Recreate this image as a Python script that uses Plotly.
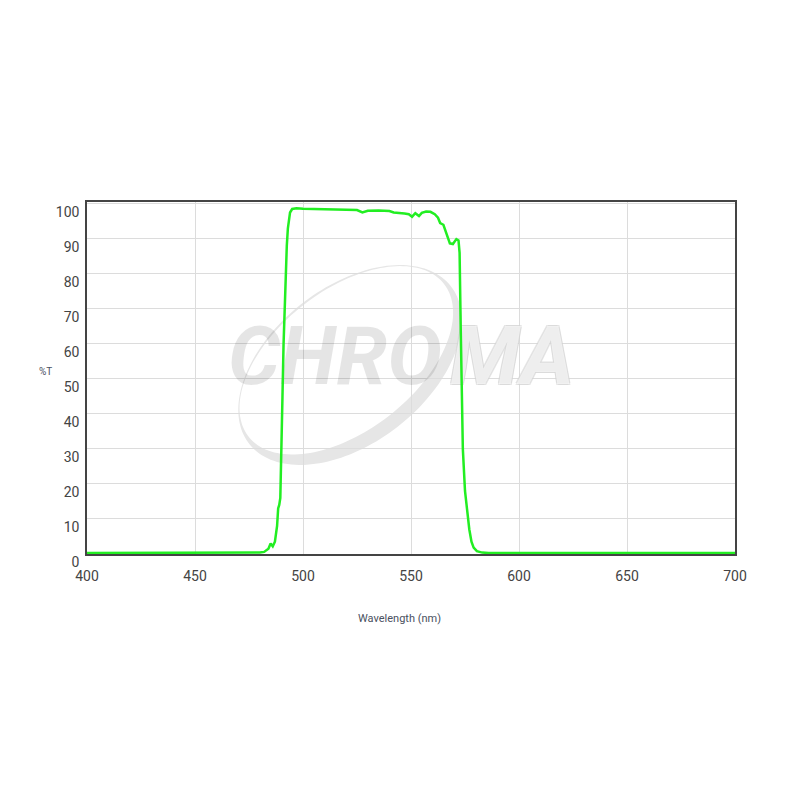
import numpy as np
import plotly.graph_objects as go

wavelength = [400, 450, 480, 482, 484, 485, 486, 487, 488, 488.5, 489, 489.5, 490, 490.5, 491, 491.5,
              492, 492.5, 493, 493.5, 494, 495, 497, 500, 505, 510, 515, 520, 525, 527.5,
              530, 535, 540, 542, 545, 547, 549, 550.5, 552, 553.7, 555, 557, 559, 561, 562.5,
              563.5, 565, 566, 567, 568, 569.4, 571, 572, 572.5, 573, 573.5, 574, 575, 576, 577,
              578, 579, 580.5, 583, 586, 600, 650, 700]
transmission = [0.3, 0.3, 0.4, 0.6, 1.5, 3, 2.2, 3.5, 8, 13, 14, 16, 27, 45, 60, 70,
                80, 88, 93, 96, 97.5, 98.5, 98.7, 98.6, 98.5, 98.4, 98.5, 98.3, 98.2, 97.5,
                98, 98.1, 97.9, 97.5, 97.4, 97.2, 97, 96.3, 97.3, 96.5, 97.4, 97.8, 97.7, 97, 96,
                94.5, 94, 92, 90.5, 88.7, 88.5, 89.9, 89.5, 86, 65, 45, 30, 18, 12, 7,
                3.5, 1.8, 0.8, 0.4, 0.3, 0.3, 0.3, 0.3]

x_ticks = [400, 450, 500, 550, 600, 650, 700]
y_ticks = [0, 10, 20, 30, 40, 50, 60, 70, 80, 90, 100]

Y_MAX = 100.5


def px_to_data(px, py):
    # decorative watermark placement: screen pixels -> data coords
    return 400 + (px - 87) * 300 / 648, (554 - py) * Y_MAX / 352


def ellipse(cx, cy, a, b, ang, n=160):
    t = np.linspace(0, 2 * np.pi, n)
    ca, sa = np.cos(ang), np.sin(ang)
    xs = cx + a * np.cos(t) * ca - b * np.sin(t) * sa
    ys = cy + a * np.cos(t) * sa + b * np.sin(t) * ca
    return xs, ys


fig = go.Figure()

ang = -np.deg2rad(38)
ox, oy = ellipse(350, 365, 128, 78, ang)
ix, iy = ellipse(350 - 3.7, 365 - 4.7, 124, 70, ang)
pts_o = [px_to_data(a, b) for a, b in zip(ox, oy)]
pts_i = [px_to_data(a, b) for a, b in zip(ix, iy)][::-1]
path = "M " + " L ".join(f"{x:.3f},{y:.3f}" for x, y in pts_o) + " Z M " + \
       " L ".join(f"{x:.3f},{y:.3f}" for x, y in pts_i) + " Z"
fig.add_shape(type="path", path=path, xref="x", yref="y", fillcolor="#e6e6e6",
              line=dict(width=0), layer="below")

# watermark words (decoration)
cx1, cy1 = px_to_data(228, 363)
cx2, cy2 = px_to_data(574, 363)
outline = "-1px -1px 0 #d4d4d4, 1px -1px 0 #d4d4d4, -1px 1px 0 #d4d4d4, 1px 1px 0 #d4d4d4"
fig.add_trace(go.Scatter(x=[cx1], y=[cy1], mode="text", text=["CHRO"], textposition="middle right",
                         textfont=dict(family="Roboto", size=82, color="rgba(0,0,0,0.10)",
                                       weight="bold", style="italic"),
                         hoverinfo="skip", showlegend=False, cliponaxis=False))
fig.add_trace(go.Scatter(x=[cx2], y=[cy2], mode="text", text=["MA"], textposition="middle left",
                         textfont=dict(family="Roboto", size=82, color="rgba(255,255,255,0.6)",
                                       weight="bold", style="italic", shadow=outline),
                         hoverinfo="skip", showlegend=False, cliponaxis=False))

fig.add_trace(go.Scatter(x=wavelength, y=transmission, mode="lines",
                         line=dict(color="#22ee22", width=2.5), showlegend=False, hoverinfo="x+y"))

fig.update_layout(
    width=800, height=800,
    margin=dict(l=79, r=73, t=194, b=254),
    paper_bgcolor="white", plot_bgcolor="white",
    font=dict(family="Roboto", color="#444"),
    xaxis=dict(range=[400, 700], tickvals=x_ticks, showgrid=True, gridcolor="#dcdcdc",
               gridwidth=1, showline=True, linecolor="#444", linewidth=1.5, mirror=True,
               zeroline=False, ticks="", ticklabelstandoff=8,
               tickfont=dict(size=14, color="#444")),
    yaxis=dict(range=[0, Y_MAX], tickvals=y_ticks, showgrid=True, gridcolor="#dcdcdc",
               gridwidth=1, showline=True, linecolor="#444", linewidth=1.5, mirror=True,
               zeroline=False, ticks="", ticklabelshift=8, ticklabelstandoff=3,
               tickfont=dict(size=14, color="#444")),
)

fig.add_annotation(x=-0.0648, y=0.519, xref="paper", yref="paper", text="%T", showarrow=False,
                   font=dict(size=10, color="#4a5060"), xanchor="center", yanchor="middle")
fig.add_annotation(x=0.4815, y=-0.183, xref="paper", yref="paper", text="Wavelength (nm)",
                   showarrow=False, font=dict(size=11, color="#4a5060"),
                   xanchor="center", yanchor="middle")

fig.write_html("out.html")
